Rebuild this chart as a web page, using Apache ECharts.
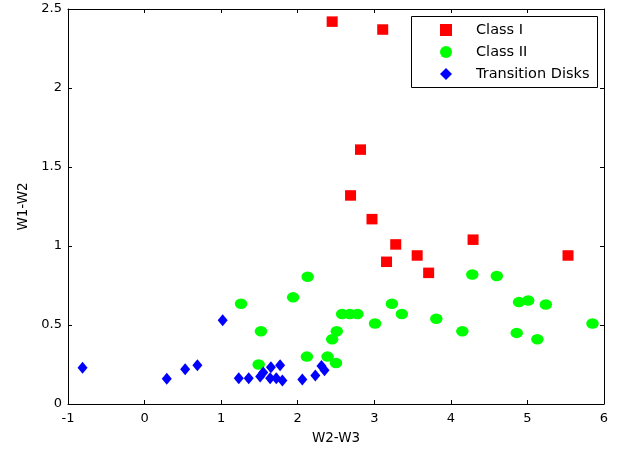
<!DOCTYPE html>
<html>
<head>
<meta charset="utf-8">
<script src="https://cdn.jsdelivr.net/npm/echarts@6/dist/echarts.min.js"></script>
<style>
html,body{margin:0;padding:0;background:#fff;}
#chart{width:630px;height:450px;}
</style>
</head>
<body>
<div id="chart"></div>
<script>
// ---- data ----
var seriesNames = ['Class I', 'Class II', 'Transition Disks'];
var xTicks = [-1, 0, 1, 2, 3, 4, 5, 6];
var yTicks = [0, 0.5, 1, 1.5, 2, 2.5];

var classI = [
  [2.45, 2.42], [3.11, 2.37], [2.82, 1.61], [2.69, 1.32], [2.97, 1.17],
  [3.28, 1.01], [3.16, 0.90], [3.56, 0.94], [3.71, 0.83], [4.29, 1.04],
  [5.53, 0.94]
];

var classII = [
  [1.26, 0.635], [1.52, 0.46], [1.94, 0.675], [2.13, 0.805], [2.12, 0.30],
  [1.49, 0.25], [2.39, 0.30], [2.45, 0.41], [2.51, 0.46], [2.50, 0.26],
  [2.58, 0.57], [2.68, 0.57], [2.78, 0.57], [3.01, 0.51], [3.23, 0.635],
  [3.36, 0.57], [3.81, 0.54], [4.15, 0.46], [4.28, 0.82], [4.60, 0.81],
  [4.89, 0.645], [5.01, 0.655], [5.24, 0.63], [4.86, 0.45], [5.13, 0.41],
  [5.85, 0.51]
];

var transitionDisks = [
  [-0.81, 0.23], [0.29, 0.16], [0.53, 0.22], [0.69, 0.245], [1.02, 0.53],
  [1.23, 0.163], [1.36, 0.163], [1.51, 0.174], [1.55, 0.20], [1.65, 0.233],
  [1.64, 0.163], [1.72, 0.163], [1.77, 0.246], [1.80, 0.149], [2.06, 0.155],
  [2.23, 0.18], [2.31, 0.24], [2.35, 0.213]
];

// ---- chart ----
var FONT = 'DejaVu Sans';
var ellipse = 'path://M0,5 A5,5 0 1,1 10,5 A5,5 0 1,1 0,5 Z';

var axisCommon = {
  type: 'value',
  splitLine: { show: false },
  axisLine: { show: true, onZero: false, lineStyle: { color: '#000', width: 1 } },
  axisTick: { show: true, inside: true, length: 4, lineStyle: { color: '#000' } }
};

function xAx(pos, showLabel) {
  return Object.assign({}, axisCommon, {
    position: pos,
    min: xTicks[0], max: xTicks[xTicks.length - 1], interval: 1,
    axisLabel: { show: showLabel, margin: 8, fontFamily: FONT, fontSize: 13, color: '#000' },
    name: showLabel ? 'W2-W3' : '',
    nameLocation: 'middle', nameGap: 27,
    nameTextStyle: { fontFamily: FONT, fontSize: 13.5, color: '#000' }
  });
}
function yAx(pos, showLabel) {
  return Object.assign({}, axisCommon, {
    position: pos,
    min: yTicks[0], max: yTicks[yTicks.length - 1], interval: 0.5,
    axisLabel: { show: showLabel, margin: 6, fontFamily: FONT, fontSize: 13, color: '#000' },
    name: showLabel ? 'W1-W2' : '',
    nameLocation: 'middle', nameGap: 38,
    nameTextStyle: { fontFamily: FONT, fontSize: 13.5, color: '#000' }
  });
}

var chart = echarts.init(document.getElementById('chart'), null, { renderer: 'canvas' });
chart.setOption({
  backgroundColor: '#fff',
  animation: false,
  grid: { left: 68, right: 26, top: 9, bottom: 46, containLabel: false },
  xAxis: [xAx('bottom', true), xAx('top', false)],
  yAxis: [yAx('left', true), yAx('right', false)],
  graphic: [{
    type: 'rect', z: 3,
    shape: { x: 411.5, y: 16.5, width: 186, height: 71 },
    style: { fill: '#fff', stroke: '#000', lineWidth: 1 }
  }],
  legend: {
    z: 5,
    orient: 'vertical',
    left: 440, top: 22,
    padding: 0,
    itemWidth: 12, itemHeight: 12, itemGap: 6,
    data: seriesNames,
    textStyle: { fontFamily: FONT, fontSize: 14.5, color: '#000', lineHeight: 16, padding: [0, 0, 0, 19] }
  },
  series: [
    {
      name: seriesNames[0], type: 'scatter', data: classI,
      symbol: 'rect', symbolSize: [11, 10.5],
      itemStyle: { color: '#ff0000', opacity: 1 }
    },
    {
      name: seriesNames[1], type: 'scatter', data: classII,
      symbol: ellipse, symbolSize: [12.5, 10.5],
      itemStyle: { color: '#00ff00', opacity: 1 }
    },
    {
      name: seriesNames[2], type: 'scatter', data: transitionDisks,
      symbol: 'diamond', symbolSize: [10, 12],
      itemStyle: { color: '#0000ff', opacity: 1 }
    }
  ]
});
</script>
</body>
</html>
